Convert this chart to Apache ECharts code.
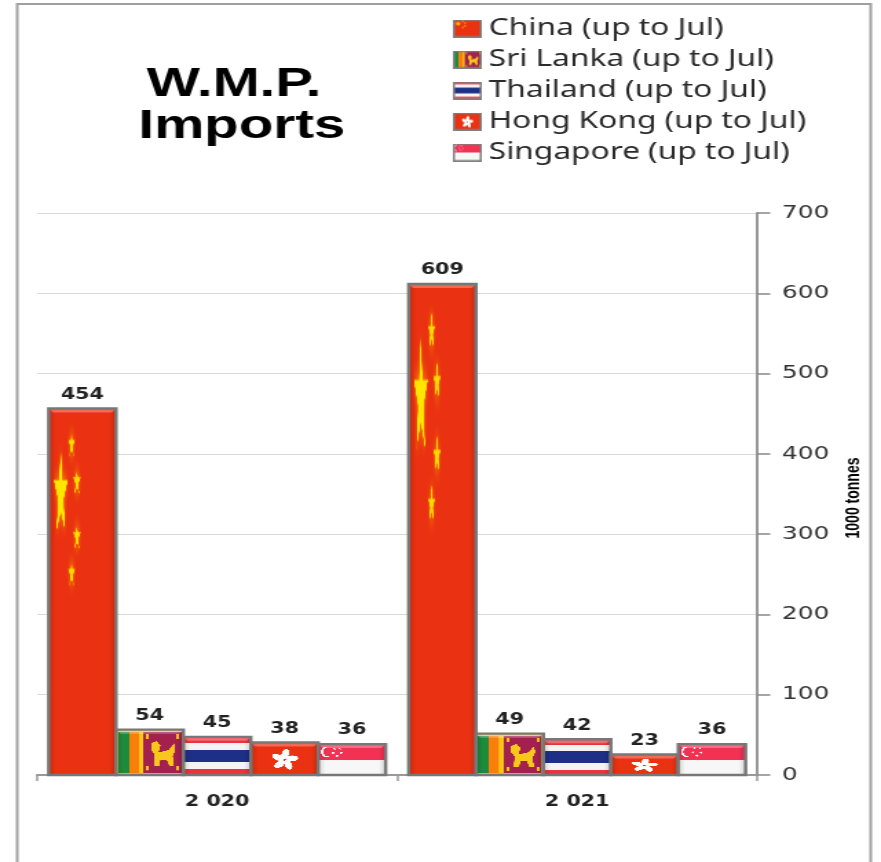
<!DOCTYPE html>
<html>
<head>
<meta charset="utf-8">
<title>W.M.P. Imports</title>
<script src="https://cdn.jsdelivr.net/npm/echarts@6/dist/echarts.min.js"></script>
<style>
  html, body { margin: 0; padding: 0; background: #fff; overflow: hidden; }
  /* the reference is a soft screenshot stretched sideways, so the whole chart is too */
  #chart { width: 640px; height: 862px; transform: scaleX(1.3766); transform-origin: 0 0; filter: blur(0.5px); }
</style>
</head>
<body>
<div id="chart"></div>
<script>
const years = ["2 020", "2 021"];
const china = [454, 609];
const sriLanka = [54, 49];
const thailand = [45, 42];
const hongKong = [38, 23];
const singapore = [36, 36];
const yTicks = [0, 700, 100];

const FLAG_SIZE = 300;
function star(ctx, cx, cy, rx, ry, fill) {
  ctx.beginPath();
  for (let i = 0; i < 10; i++) {
    const r = i % 2 ? 0.38 : 1;
    const a = -Math.PI / 2 + (i * Math.PI) / 5;
    ctx.lineTo(cx + Math.cos(a) * rx * r, cy + Math.sin(a) * ry * r);
  }
  ctx.closePath();
  ctx.fillStyle = fill;
  ctx.fill();
}
function rect(ctx, x, y, w, h, fill) {
  ctx.fillStyle = fill;
  ctx.fillRect(x, y, w, h);
}
const flagPainters = {
  china(ctx) {
    rect(ctx, 0, 0, 1, 1, "#ea3112");
    ctx.shadowColor = "rgba(255,190,0,0.8)";
    ctx.shadowBlur = 14;
    star(ctx, 0.18, 0.234, 0.11, 0.125, "#ffe600");
    star(ctx, 0.34, 0.098, 0.055, 0.04, "#ffd800");
    star(ctx, 0.42, 0.2, 0.06, 0.04, "#ffd800");
    star(ctx, 0.42, 0.35, 0.06, 0.04, "#ffd800");
    star(ctx, 0.34, 0.45, 0.055, 0.04, "#ffd800");
    ctx.shadowBlur = 0;
  },
  sriLanka(ctx) {
    rect(ctx, 0, 0, 1, 1, "#f5c518");
    rect(ctx, 0.03, 0.05, 0.16, 0.9, "#1d8a3c");
    rect(ctx, 0.19, 0.05, 0.15, 0.9, "#f97f0a");
    rect(ctx, 0.41, 0.05, 0.56, 0.9, "#a3204f");
    // lion
    ctx.fillStyle = "#f7c71c";
    ctx.beginPath();
    [[0.52, 0.3], [0.6, 0.25], [0.66, 0.35], [0.63, 0.5], [0.78, 0.45], [0.86, 0.3], [0.88, 0.45],
      [0.84, 0.58], [0.86, 0.8], [0.79, 0.8], [0.75, 0.66], [0.66, 0.66], [0.64, 0.8], [0.56, 0.8],
      [0.57, 0.55], [0.52, 0.45]].forEach((p) => ctx.lineTo(p[0], p[1]));
    ctx.closePath();
    ctx.fill();
    rect(ctx, 0.45, 0.1, 0.04, 0.1, "#f7c71c");
    rect(ctx, 0.9, 0.1, 0.04, 0.1, "#f7c71c");
    rect(ctx, 0.45, 0.8, 0.04, 0.1, "#f7c71c");
    rect(ctx, 0.9, 0.8, 0.04, 0.1, "#f7c71c");
  },
  thailand(ctx) {
    rect(ctx, 0, 0, 1, 1, "#f4f4f4");
    rect(ctx, 0, 0, 1, 0.15, "#e8343f");
    rect(ctx, 0, 0.34, 1, 0.32, "#1e2f87");
    rect(ctx, 0, 0.85, 1, 0.15, "#e8343f");
  },
  hongKong(ctx) {
    rect(ctx, 0, 0, 1, 1, "#ea3112");
    ctx.save();
    ctx.translate(0.5, 0.53);
    ctx.scale(0.2, 0.33);
    for (let i = 0; i < 5; i++) {
      ctx.save();
      ctx.rotate(-Math.PI / 2 + (i * 2 * Math.PI) / 5);
      ctx.beginPath();
      ctx.ellipse(0.55, 0.05, 0.47, 0.27, 0.25, 0, Math.PI * 2);
      ctx.fillStyle = "#fff";
      ctx.fill();
      ctx.restore();
    }
    ctx.restore();
  },
  singapore(ctx) {
    rect(ctx, 0, 0, 1, 1, "#f7f7f7");
    rect(ctx, 0, 0, 1, 0.5, "#f33152");
    ctx.beginPath();
    ctx.ellipse(0.12, 0.25, 0.08, 0.17, 0, 0, Math.PI * 2);
    ctx.fillStyle = "#fff";
    ctx.fill();
    ctx.beginPath();
    ctx.ellipse(0.15, 0.25, 0.075, 0.15, 0, 0, Math.PI * 2);
    ctx.fillStyle = "#f33152";
    ctx.fill();
    star(ctx, 0.24, 0.14, 0.025, 0.05, "#fff");
    star(ctx, 0.32, 0.14, 0.025, 0.05, "#fff");
    star(ctx, 0.22, 0.28, 0.025, 0.05, "#fff");
    star(ctx, 0.34, 0.28, 0.025, 0.05, "#fff");
    star(ctx, 0.28, 0.38, 0.025, 0.05, "#fff");
  },
};
function makeFlag(name) {
  const c = document.createElement("canvas");
  c.width = c.height = FLAG_SIZE;
  const ctx = c.getContext("2d");
  ctx.scale(FLAG_SIZE, FLAG_SIZE);
  flagPainters[name](ctx);
  return c;
}
function makeIcon(flag) {
  const c = document.createElement("canvas");
  c.width = 84;
  c.height = 72;
  const ctx = c.getContext("2d");
  ctx.drawImage(flag, 0, 0, 84, 72);
  ctx.strokeStyle = "#808080";
  ctx.lineWidth = 12;
  ctx.strokeRect(0, 0, 84, 72);
  return c.toDataURL();
}

function flagBar(index, flag) {
  return function (params, api) {
    const top = api.coord([api.value(0), api.value(1)]);
    const base = api.coord([api.value(0), 0]);
    const w = (api.size([1, 0])[0] * 67.4) / 360;
    const x = top[0] + (index - 2) * w - w / 2;
    const y = top[1] - 2; // bevel sits a little above the value
    const h = base[1] - y;
    return {
      type: "group",
      children: [
        { type: "image", style: { image: flag, x, y, width: w, height: h } },
        {
          type: "rect",
          shape: { x, y, width: w, height: h },
          style: {
            fill: new echarts.graphic.LinearGradient(0, 0, 1, 0, [
              { offset: 0, color: "rgba(0,0,0,0.16)" },
              { offset: 0.1, color: "rgba(0,0,0,0)" },
              { offset: 0.9, color: "rgba(0,0,0,0)" },
              { offset: 1, color: "rgba(0,0,0,0.16)" },
            ]),
          },
        },
        {
          type: "polygon",
          shape: { points: [[x, y], [x + w, y], [x + w - 3, y + 4], [x + 3, y + 4]] },
          style: { fill: "rgba(255,255,255,0.28)" },
        },
        {
          type: "rect",
          shape: { x, y, width: w, height: h },
          style: { fill: "none", stroke: "#777", lineWidth: 2.4 },
        },
        {
          type: "text",
          style: {
            text: String(api.value(1)),
            x: x + w / 2,
            y: y - 6,
            align: "center",
            verticalAlign: "bottom",
            font: 'bold 15px "DejaVu Sans"',
            fill: "#222",
          },
        },
      ],
    };
  };
}

const countries = [
  { key: "china", name: "China (up to Jul)", values: china },
  { key: "sriLanka", name: "Sri Lanka (up to Jul)", values: sriLanka },
  { key: "thailand", name: "Thailand (up to Jul)", values: thailand },
  { key: "hongKong", name: "Hong Kong (up to Jul)", values: hongKong },
  { key: "singapore", name: "Singapore (up to Jul)", values: singapore },
];
countries.forEach((c) => {
  c.flag = makeFlag(c.key);
  c.icon = "image://" + makeIcon(c.flag);
});

const chart = echarts.init(document.getElementById("chart"));
chart.setOption({
  animation: false,
  backgroundColor: "#fff",
  title: {
    text: "W.M.P.\n Imports",
    left: 165,
    top: 59,
    textAlign: "center",
    textStyle: {
      fontFamily: "Liberation Sans",
      fontWeight: "bold",
      fontSize: 41,
      lineHeight: 42,
      color: "#000",
    },
  },
  legend: {
    orient: "vertical",
    left: 324,
    top: 12,
    itemWidth: 21,
    itemHeight: 18,
    itemGap: 8,
    selectedMode: false,
    textStyle: { fontFamily: "Noto Sans", fontSize: 23, lineHeight: 18, color: "#2a2a2a" },
    data: countries.map((c) => ({ name: c.name, icon: c.icon })),
  },
  grid: { left: 27, top: 213, width: 523, height: 562 },
  xAxis: {
    type: "category",
    data: years,
    axisLine: { lineStyle: { color: "#999", width: 2 } },
    axisTick: { show: true, length: 6, lineStyle: { color: "#999", width: 1.5 } },
    axisLabel: {
      margin: 20,
      fontFamily: "DejaVu Sans",
      fontWeight: "bold",
      fontSize: 15,
      color: "#222",
    },
  },
  yAxis: {
    type: "value",
    position: "right",
    min: yTicks[0],
    max: yTicks[1],
    interval: yTicks[2],
    name: "1000 tonnes",
    nameLocation: "middle",
    nameRotate: 90,
    nameGap: 60,
    nameTextStyle: {
      fontFamily: "Liberation Sans",
      fontWeight: "bold",
      fontSize: 14,
      color: "#000",
      padding: [0, 8, 0, 0],
    },
    axisLine: { show: true, lineStyle: { color: "#999", width: 2 } },
    axisTick: { show: true, length: 9.5, lineStyle: { color: "#888", width: 1.5 } },
    axisLabel: { margin: 18, fontFamily: "DejaVu Sans", fontSize: 18, color: "#333", padding: [7, 0, 0, 0] },
    splitLine: { lineStyle: { color: "#d9d9d9", width: 1 } },
  },
  graphic: [
    {
      type: "rect",
      silent: true,
      z: -1,
      shape: { x: 12.5, y: 4, width: 620, height: 900 },
      style: { fill: "none", stroke: "#a0a0a0", lineWidth: 2 },
    },
  ],
  series: countries.map((c, i) => ({
    name: c.name,
    type: "custom",
    renderItem: flagBar(i, c.flag),
    encode: { x: 0, y: 1 },
    data: c.values.map((v, k) => [k, v]),
  })),
});
</script>
</body>
</html>
